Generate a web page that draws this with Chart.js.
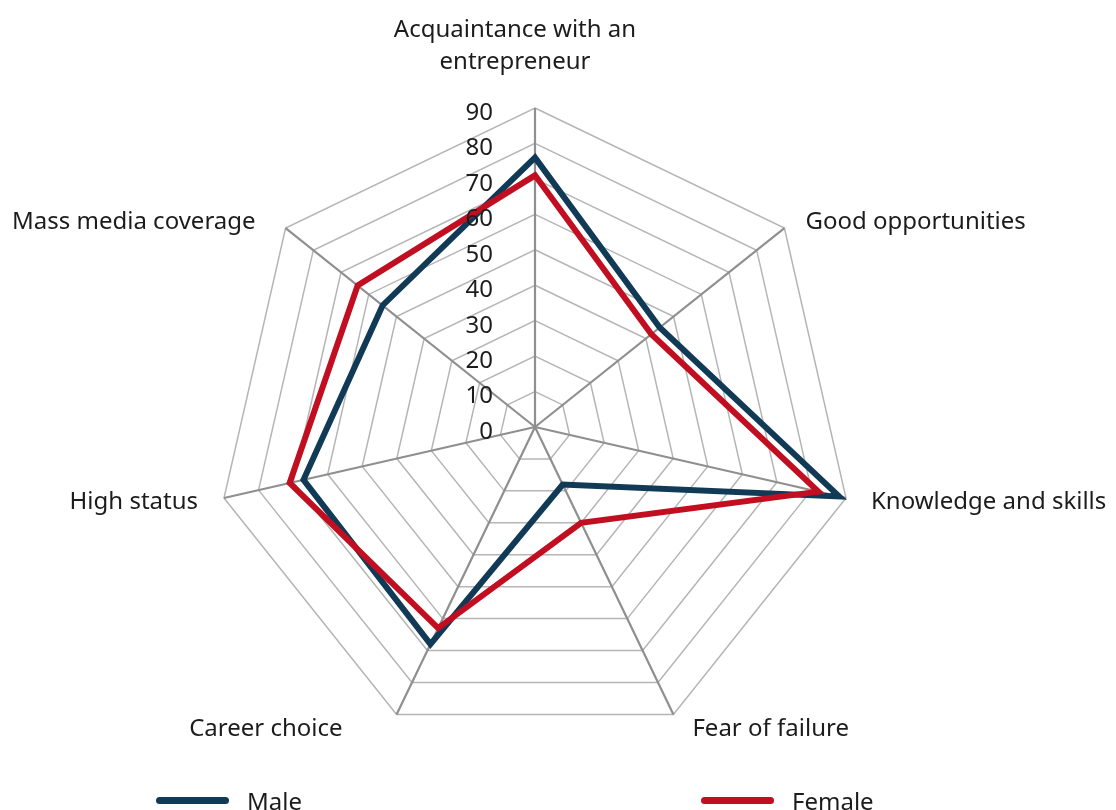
<!DOCTYPE html>
<html>
<head>
<meta charset="utf-8">
<script src="https://cdn.jsdelivr.net/npm/chart.js@4.4.1/dist/chart.umd.min.js"></script>
<style>
  html, body { margin: 0; padding: 0; background: #fff; overflow: hidden; }
  #wrap { position: relative; width: 1116px; height: 810px; }
  .leg { position: absolute; top: 784px; font: 24px 'Noto Sans'; color: #1c1c1c; display: flex; align-items: center; white-space: nowrap; }
  .leg i { display: inline-block; width: 73px; height: 7px; border-radius: 4px; margin-right: 18px; }
</style>
</head>
<body>
<div id="wrap">
  <canvas id="grafica" width="1116" height="810"></canvas>
  <div class="leg" id="leg0" style="left:156px"></div>
  <div class="leg" id="leg1" style="left:701px"></div>
</div>
<script>
// data
const categorias = [['Acquaintance with an', 'entrepreneur'], 'Good opportunities', 'Knowledge and skills',
  'Fear of failure', 'Career choice', 'High status', 'Mass media coverage'];
const male_vals = [76, 45, 88, 18, 68, 67, 55];
const female_vals = [71, 42, 82, 30, 63, 71, 64];
const tick_vals = [0, 10, 20, 30, 40, 50, 60, 70, 80, 90];

const color_male = '#103a55';
const color_female = '#c10f21';
const text_color = '#1c1c1c';

// where each category label sits, relative to the end of its spoke
const label_pos = [
  {dx: -20, dy: -71, align: 'center'},
  {dx: 21, dy: 1, align: 'left'},
  {dx: 25, dy: 11, align: 'left'},
  {dx: 19, dy: 22, align: 'left'},
  {dx: -54, dy: 22, align: 'right'},
  {dx: -26, dy: 11, align: 'right'},
  {dx: -30, dy: 1, align: 'right'}
];

const etiquetas = {
  id: 'etiquetas',
  afterDatasetsDraw(chart) {
    const r = chart.scales.r;
    const c = chart.ctx;
    c.save();
    c.fillStyle = text_color;
    c.font = '24px "Noto Sans"';

    // value labels, right aligned left of the top spoke
    c.textAlign = 'right';
    c.textBaseline = 'middle';
    r.ticks.forEach(t => {
      const y = r.yCenter - r.getDistanceFromCenterForValue(t.value);
      c.fillText(String(t.value), r.xCenter - 42, y + 5);
    });

    // category labels
    c.textBaseline = 'alphabetic';
    categorias.forEach((lab, i) => {
      const p = r.getPointPosition(i, r.drawingArea);
      const o = label_pos[i];
      c.textAlign = o.align;
      const lines = Array.isArray(lab) ? lab : [lab];
      lines.forEach((ln, k) => {
        c.fillText(ln, p.x + o.dx, p.y + o.dy + k * 32);
      });
    });
    c.restore();
  }
};

const ctx = document.getElementById('grafica');

const grafica = new Chart(ctx, {
  type: 'radar',
  data: {
    labels: categorias,
    datasets: [{
      label: 'Male',
      data: male_vals,
      borderColor: color_male,
      backgroundColor: 'transparent',
      fill: false,
      borderWidth: 6,
      borderJoinStyle: 'miter',
      pointRadius: 0,
      order: 1
    }, {
      label: 'Female',
      data: female_vals,
      borderColor: color_female,
      backgroundColor: 'transparent',
      fill: false,
      borderWidth: 6,
      borderJoinStyle: 'miter',
      pointRadius: 0,
      order: 0
    }]
  },
  options: {
    responsive: false,
    animation: false,
    layout: { padding: { left: 0, right: 46, top: 108, bottom: 63 } },
    plugins: {
      legend: { display: false },
      tooltip: { enabled: false }
    },
    scales: {
      r: {
        min: 0,
        max: 90,
        afterBuildTicks: s => { s.ticks = tick_vals.map(v => ({ value: v })); },
        ticks: { display: false, stepSize: 10 },
        pointLabels: { display: false },
        grid: { color: '#b5b5b5', lineWidth: 1.5 },
        angleLines: { color: '#8f8f8f', lineWidth: 2.2 }
      }
    }
  },
  plugins: [etiquetas]
});

// legend under the chart
grafica.data.datasets.forEach((d, i) => {
  document.getElementById('leg' + i).innerHTML = '<i style="background:' + d.borderColor + '"></i>' + d.label;
});
</script>
</body>
</html>
